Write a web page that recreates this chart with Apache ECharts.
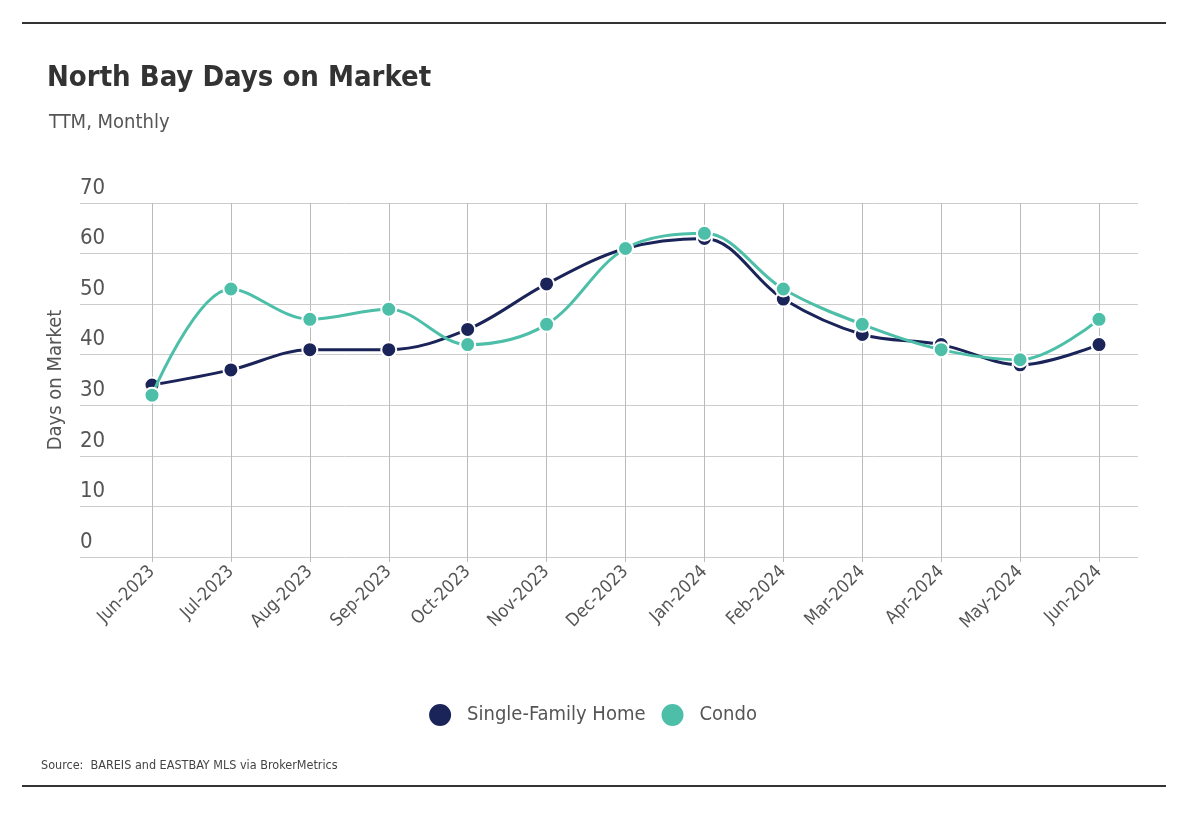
<!DOCTYPE html>
<html>
<head>
<meta charset="utf-8">
<script src="https://cdn.jsdelivr.net/npm/echarts@6/dist/echarts.min.js"></script>
<style>
html,body{margin:0;padding:0;background:#fff;}
#chart{width:1184px;height:820px;}
</style>
</head>
<body>
<div id="chart"></div>
<script>
const months = ['Jun-2023','Jul-2023','Aug-2023','Sep-2023','Oct-2023','Nov-2023','Dec-2023','Jan-2024','Feb-2024','Mar-2024','Apr-2024','May-2024','Jun-2024'];
const singleFamily = [34, 37, 41, 41, 45, 54, 61, 63, 51, 44, 42, 38, 42];
const condo = [32, 53, 47, 49, 42, 46, 61, 64, 53, 46, 41, 39, 47];
const yTicks = [0, 10, 20, 30, 40, 50, 60, 70];

const FONT = "'DejaVu Sans Condensed', 'Liberation Sans Narrow', 'Noto Sans', sans-serif";
const NAVY = '#1b2459';
const TEAL = '#4dbfa9';
const GRID_TOP = 203, GRID_BOTTOM = 820 - 557;

const chart = echarts.init(document.getElementById('chart'));
chart.setOption({
  backgroundColor: '#fff',
  animation: false,
  textStyle: { fontFamily: FONT },
  title: [
    { text: 'North Bay Days on Market', left: 42, top: 59,
      textStyle: { fontFamily: FONT, fontSize: 29, fontWeight: 'bold', color: '#333' } },
    { text: 'TTM, Monthly', left: 44, top: 108,
      textStyle: { fontFamily: FONT, fontSize: 20, fontWeight: 'normal', color: '#555' } },
    { text: 'Source:  BAREIS and EASTBAY MLS via BrokerMetrics', left: 36, top: 754,
      textStyle: { fontFamily: FONT, fontSize: 12.5, fontWeight: 'normal', color: '#444' } }
  ],
  graphic: [
    { type: 'line', shape: { x1: 22, y1: 23, x2: 1166, y2: 23 }, style: { stroke: '#333', lineWidth: 2 } },
    { type: 'line', shape: { x1: 22, y1: 786, x2: 1166, y2: 786 }, style: { stroke: '#333', lineWidth: 2 } }
  ],
  legend: {
    top: 697, left: 'center',
    icon: 'circle', itemWidth: 24, itemHeight: 24, itemGap: 14,
    textStyle: { fontFamily: FONT, fontSize: 20, color: '#555', padding: [0, 0, 0, 10] },
    data: ['Single-Family Home', 'Condo']
  },
  grid: [
    { left: 80, right: 46, top: GRID_TOP, bottom: GRID_BOTTOM },
    { left: 152, right: 85, top: GRID_TOP, bottom: GRID_BOTTOM }
  ],
  xAxis: [
    { gridIndex: 0, type: 'category', data: months, show: false },
    { gridIndex: 1, type: 'category', data: months, boundaryGap: false,
      axisLine: { show: false },
      axisTick: { show: true, length: 5, lineStyle: { color: '#bbb' } },
      splitLine: { show: true, showMinLine: true, showMaxLine: true, lineStyle: { color: '#bbb', width: 1 } },
      axisLabel: { rotate: 45, fontSize: 18, color: '#555', margin: 12, fontFamily: FONT, interval: 0 }
    }
  ],
  yAxis: [
    { gridIndex: 0, type: 'value', min: 0, max: 70, interval: 10,
      name: 'Days on Market', nameLocation: 'middle', nameGap: 14, nameRotate: 90,
      nameTextStyle: { fontFamily: FONT, fontSize: 20, color: '#555' },
      axisLine: { show: false }, axisTick: { show: false },
      splitLine: { show: true, lineStyle: { color: '#ccc', width: 1 } },
      axisLabel: { inside: true, margin: 0, verticalAlign: 'bottom', padding: [0, 0, 4, 0],
        fontSize: 22, color: '#555', fontFamily: FONT,
        formatter: (v) => yTicks.includes(v) ? String(v) : '' }
    },
    { gridIndex: 1, type: 'value', min: 0, max: 70, interval: 10, show: false,
      splitLine: { show: false } }
  ],
  series: [
    { name: 'Single-Family Home', type: 'line', xAxisIndex: 1, yAxisIndex: 1,
      data: singleFamily, smooth: 0.35, symbol: 'circle', symbolSize: 15,
      itemStyle: { color: NAVY, borderColor: '#fff', borderWidth: 2 },
      lineStyle: { color: NAVY, width: 3 }, z: 3 },
    { name: 'Condo', type: 'line', xAxisIndex: 1, yAxisIndex: 1,
      data: condo, smooth: 0.35, symbol: 'circle', symbolSize: 15,
      itemStyle: { color: TEAL, borderColor: '#fff', borderWidth: 2 },
      lineStyle: { color: TEAL, width: 3 }, z: 4 }
  ]
});
</script>
</body>
</html>
